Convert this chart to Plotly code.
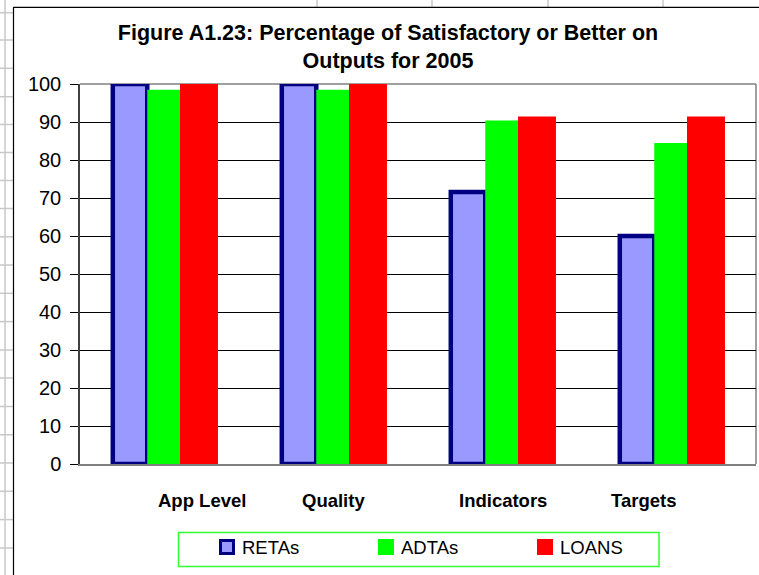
import plotly.graph_objects as go

categories = ["App Level", "Quality", "Indicators", "Targets"]
series_names = ["RETAs", "ADTAs", "LOANS"]
retas = [100, 100, 71.6, 60]
adtas = [98.5, 98.5, 90.4, 84.5]
loans = [100, 100, 91, 91]
y_ticks = [0, 10, 20, 30, 40, 50, 60, 70, 80, 90, 100]
label_shift = [37, 0, 0, -28]

W, H = 759, 575
L, R, T, B = 80, 3, 84, 111
PW, PH = W - L - R, H - T - B

def px(x):
    return (x - L) / PW

def py(y):
    return (H - B - y) / PH

FONT = "Liberation Sans, Arial, sans-serif"
fills = ["#9999ff", "#00ff00", "#ff0000"]
edges = ["#000080", "#00ff00", "#ff0000"]
edge_w = [4.5, 0, 3.5]

fig = go.Figure()
for name, vals, fc, ec, ew in zip(series_names, [retas, adtas, loans], fills, edges, edge_w):
    fig.add_trace(go.Bar(x=categories, y=vals, name=name, cliponaxis=False,
                         marker=dict(color=fc, line=dict(color=ec, width=ew))))

shapes = []
# spreadsheet background gridlines
shapes.append(dict(type="line", xref="paper", yref="paper", x0=px(5), x1=px(5), y0=py(0), y1=py(575),
                   line=dict(color="#c8c8c8", width=1.5), layer="below"))
for yy in [12.7, 40, 68.3, 96.7, 124.5, 152.5, 180.5, 208.5, 236.8, 265, 293.3, 321.6, 350,
           378, 406.5, 434.8, 463, 491.3, 519.6, 548]:
    shapes.append(dict(type="line", xref="paper", yref="paper", x0=px(0), x1=px(13), y0=py(yy), y1=py(yy),
                       line=dict(color="#c8c8c8", width=1.5), layer="below"))
for xx in [317, 432, 548, 663]:
    shapes.append(dict(type="line", xref="paper", yref="paper", x0=px(xx), x1=px(xx), y0=py(0), y1=py(7),
                       line=dict(color="#c8c8c8", width=1.5), layer="below"))
# chart area border
shapes.append(dict(type="line", xref="paper", yref="paper", x0=px(13.5), x1=px(13.5), y0=py(7), y1=py(575),
                   line=dict(color="#000000", width=1.2)))
shapes.append(dict(type="line", xref="paper", yref="paper", x0=px(13.5), x1=px(759), y0=py(7.3), y1=py(7.3),
                   line=dict(color="#000000", width=1.2)))
# plot area border (top and right)
shapes.append(dict(type="line", xref="paper", yref="paper", x0=0, x1=1, y0=1, y1=1,
                   line=dict(color="#808080", width=1.5), layer="below"))
shapes.append(dict(type="line", xref="paper", yref="paper", x0=1, x1=1, y0=0, y1=1,
                   line=dict(color="#808080", width=1.5), layer="below"))

annotations = []
for cat, sh in zip(categories, label_shift):
    annotations.append(dict(x=cat, y=py(500), xref="x", yref="paper", text="<b>%s</b>" % cat,
                            showarrow=False, xshift=sh, yanchor="middle",
                            font=dict(family=FONT, size=18.5, color="#000000")))

# legend drawn as box + swatches + labels
shapes.append(dict(type="rect", xref="paper", yref="paper", x0=px(178.5), x1=px(659), y0=py(532.5), y1=py(566.5),
                   line=dict(color="#33ff33", width=1.5), fillcolor="#ffffff"))
sw_x = [219, 378, 537]
for name, fc, ec, ew, sx in zip(series_names, fills, edges, edge_w, sw_x):
    inset = 1.5 if ew > 4 else 0
    shapes.append(dict(type="rect", xref="paper", yref="paper",
                       x0=px(sx + inset), x1=px(sx + 16 - inset), y0=py(539 + inset), y1=py(555 - inset),
                       fillcolor=fc, line=dict(color=ec, width=3 if ew > 4 else 0)))
    annotations.append(dict(x=px(sx + 21), y=py(547.5), xref="paper", yref="paper", text=name,
                            showarrow=False, xanchor="left", yanchor="middle",
                            font=dict(family=FONT, size=18.5, color="#000000")))

fig.update_layout(
    width=W, height=H,
    margin=dict(l=L, r=R, t=T, b=B, pad=0, autoexpand=False),
    paper_bgcolor="#ffffff", plot_bgcolor="#ffffff",
    barmode="group", bargap=0.388, bargroupgap=0,
    showlegend=False,
    title=dict(text="<b>Figure A1.23: Percentage of Satisfactory or Better on<br>Outputs for 2005</b>",
               x=388 / W, xref="container", xanchor="center",
               y=1 - 40 / H, yref="container", yanchor="middle",
               font=dict(family=FONT, size=21.5, color="#000000")),
    font=dict(family=FONT, size=18, color="#000000"),
    xaxis=dict(showticklabels=False, showgrid=False, ticks="", showline=True,
               linecolor="#808080", linewidth=1.5, zeroline=False),
    yaxis=dict(range=[0, 100], tickvals=y_ticks, showgrid=True, gridcolor="#000000", gridwidth=1,
               ticks="outside", ticklen=8, tickcolor="#000000", tickwidth=1,
               showline=True, linecolor="#404040", linewidth=1.5, zeroline=False,
               tickfont=dict(family=FONT, size=20, color="#000000"), ticklabelstandoff=5),
    shapes=shapes, annotations=annotations,
)

fig.write_html("out.html", config={"displayModeBar": False},
               post_script="document.body.style.margin='0';")
